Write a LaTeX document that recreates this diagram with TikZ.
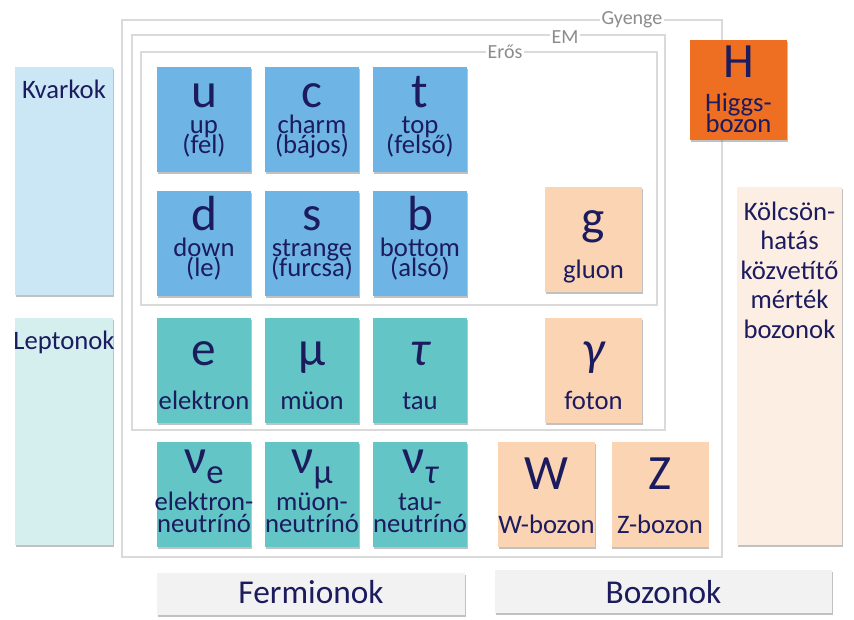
\documentclass[tikz,border=0pt]{standalone}
\usepackage{fontspec}
\setmainfont{Carlito}
\usetikzlibrary{shadows}
\definecolor{navy}{RGB}{27,27,94}
\definecolor{qblue}{RGB}{110,181,229}
\definecolor{lteal}{RGB}{100,197,198}
\definecolor{bpeach}{RGB}{251,212,180}
\definecolor{horange}{RGB}{238,111,34}
\definecolor{kvbg}{RGB}{203,231,246}
\definecolor{lpbg}{RGB}{213,239,239}
\definecolor{kobg}{RGB}{253,238,228}
\definecolor{grbg}{RGB}{242,242,242}
\definecolor{frame}{RGB}{218,218,218}
\definecolor{flabel}{RGB}{140,140,140}
\tikzset{
  box/.style={draw=none, inner sep=0pt, outer sep=0pt,
    drop shadow={shadow xshift=0.4pt, shadow yshift=-1.6pt, opacity=0.35, fill=black!70}},
  quark/.style={box, fill=qblue, minimum width=70.5pt, minimum height=78.75pt},
  lepton/.style={box, fill=lteal, minimum width=70.5pt, minimum height=78.75pt},
  boson/.style={box, fill=bpeach, minimum width=72.75pt, minimum height=78.75pt},
  higgs/.style={box, fill=horange, minimum width=72.75pt, minimum height=75pt},
  sym/.style={inner sep=0pt, anchor=base, text=navy, font=\fontsize{37}{37}\selectfont},
  lab/.style={inner sep=0pt, anchor=base, text=navy, font=\fontsize{20}{20}\selectfont},
  big/.style={lab, font=\fontsize{25}{25}\selectfont},
  frameline/.style={draw=frame, line width=2.2pt},
  flab/.style={fill=white, text=flabel, inner sep=1.5pt, font=\fontsize{15}{15}\selectfont},
}
\newcommand\qk[7]{%
  \node[#4] (#1) at (#2,#3) {};
  \node[sym] (#1s) at (#2,#3-12.5) {#5};
  \node[lab] (#1a) at (#2,#3+13.5) {#6};
  \node[lab] (#1b) at (#2,#3+33.5) {#7};}
\newcommand\one[6]{%
  \node[#4] (#1) at (#2,#3) {};
  \node[sym] (#1s) at (#2,#3-5) {#5};
  \node[lab] (#1a) at (#2,#3+39) {#6};}
\newcommand\neut[6]{%
  \node[#4] (#1) at (#2,#3) {};
  \node[sym] (#1s) at (#2,#3-21.5) {#5};
  \node[lab] (#1a) at (#2,#3+15.5) {#6};
  \node[lab] (#1b) at (#2,#3+37.5) {neutrínó};}
\newcommand\subs[1]{\raisebox{-7.5pt}{\fontsize{26}{26}\selectfont #1}}
\begin{document}
\begin{tikzpicture}[x=0.75pt, y=-0.75pt]
\useasboundingbox (0,0) rectangle (854,619);
% frames
\draw[frameline] (122,20) rectangle (722,557);
\draw[frameline] (132,35) rectangle (665,430);
\draw[frameline] (141,52) rectangle (657,305);
\node[flab] (gyenge) at (632,20) {Gyenge};
\node[flab] (em) at (565,37) {EM};
\node[flab] (eros) at (505,52) {Erős};
% side labels
\node[box, fill=kvbg, minimum width=73.5pt, minimum height=171pt] (kvark) at (64,181) {};
\node[lab] (kvarkt) at (64,98) {Kvarkok};
\node[box, fill=lpbg, minimum width=73.5pt, minimum height=170.25pt] (lepton) at (64,431.5) {};
\node[lab] (leptont) at (64,349) {Leptonok};
% quarks
\qk{u}{204}{119.5}{quark}{u}{up}{(fel)}
\qk{c}{312}{119.5}{quark}{c}{charm}{(bájos)}
\qk{t}{420}{119.5}{quark}{t}{top}{(felső)}
\qk{d}{204}{243}{quark}{d}{down}{(le)}
\qk{s}{312}{243}{quark}{s}{strange}{(furcsa)}
\qk{b}{420}{243}{quark}{b}{bottom}{(alsó)}
% leptons
\one{e}{204}{370.5}{lepton}{e}{elektron}
\one{mu}{312}{370.5}{lepton}{μ}{müon}
\one{tau}{420}{370.5}{lepton}{\itshape τ}{tau}
\neut{ne}{204}{494.5}{lepton}{ν\subs{e}}{elektron-}
\neut{nm}{312}{494.5}{lepton}{ν\subs{μ}}{müon-}
\neut{nt}{420}{494.5}{lepton}{ν\subs{\itshape τ}}{tau-}
% bosons
\one{g}{593.5}{239.5}{boson}{g}{gluon}
\one{gam}{593.5}{370.5}{boson}{\itshape γ}{foton}
\one{w}{546.5}{494.5}{boson}{W}{W-bozon}
\one{z}{660}{494.5}{boson}{Z}{Z-bozon}
% higgs
\node[higgs] (h) at (738.5,90) {};
\node[sym] (hs) at (738.5,77) {H};
\node[lab] (ha) at (738.5,111) {Higgs-};
\node[lab] (hb) at (738.5,132) {bozon};
% interaction column
\node[box, fill=kobg, minimum width=78.75pt, minimum height=268.5pt] (kolcs) at (789.5,366) {};
\node[lab] (k1) at (789.5,220) {Kölcsön-};
\node[lab] (k2) at (789.5,249.5) {hatás};
\node[lab] (k3) at (789.5,279) {közvetítő};
\node[lab] (k4) at (789.5,308.5) {mérték};
\node[lab] (k5) at (789.5,338) {bozonok};
% bottom labels
\node[box, fill=grbg, minimum width=231pt, minimum height=31.5pt] (ferm) at (311,594) {};
\node[big] (fermt) at (311,603) {Fermionok};
\node[box, fill=grbg, minimum width=252.75pt, minimum height=32.25pt] (boz) at (663.5,591.5) {};
\node[big] (bozt) at (663.5,603) {Bozonok};
\end{tikzpicture}
\end{document}
